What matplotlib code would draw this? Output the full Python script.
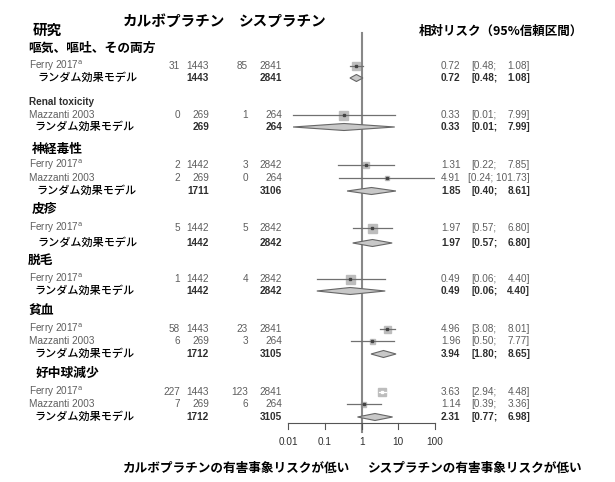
import numpy as np
import matplotlib
matplotlib.use('Agg')
import matplotlib.pyplot as plt
from matplotlib.patches import Polygon, Rectangle

plt.rcParams['font.family'] = ['Liberation Sans', 'Noto Sans CJK JP', 'DejaVu Sans']
JP = ['Noto Sans CJK JP', 'DejaVu Sans']

# subgroup headings
groups = ['嘔気、嘔吐、その両方', 'Renal toxicity', '神経毒性', '皮疹', '脱毛', '貧血', '好中球減少']

# individual studies
study_names = ['Ferry 2017', 'Mazzanti 2003', 'Ferry 2017', 'Mazzanti 2003', 'Ferry 2017',
               'Ferry 2017', 'Ferry 2017', 'Mazzanti 2003', 'Ferry 2017', 'Mazzanti 2003']
carbo_events = [31, 0, 2, 2, 5, 1, 58, 6, 227, 7]
carbo_total = [1443, 269, 1442, 269, 1442, 1442, 1443, 269, 1443, 269]
cis_events = [85, 1, 3, 0, 5, 4, 23, 3, 123, 6]
cis_total = [2841, 264, 2842, 264, 2842, 2842, 2841, 264, 2841, 264]
rr = [0.72, 0.33, 1.31, 4.91, 1.97, 0.49, 4.96, 1.96, 3.63, 1.14]
rr_lo = [0.48, 0.0135, 0.22, 0.24, 0.57, 0.06, 3.08, 0.50, 2.94, 0.39]
rr_hi = [1.08, 7.99, 7.85, 101.73, 6.80, 4.40, 8.01, 7.77, 4.48, 3.36]
study_weight = [8, 9, 6, 4, 9, 9, 7, 5, 8, 5]

# random effects model per subgroup
pool_carbo_total = [1443, 269, 1711, 1442, 1442, 1712, 1712]
pool_cis_total = [2841, 264, 3106, 2842, 2842, 3105, 3105]
pool_rr = [0.72, 0.33, 1.85, 1.97, 0.49, 3.94, 2.31]
pool_lo = [0.48, 0.0135, 0.40, 0.57, 0.06, 1.80, 0.77]
pool_hi = [1.08, 7.99, 8.61, 6.80, 4.40, 8.65, 6.98]

ticks = [0.01, 0.1, 1, 10, 100]
tick_labels = ['0.01', '0.1', '1', '10', '100']

# layout (pixel rows)
head_y = [48, 102, 149, 209, 260, 310, 373]
head_x = [28, 29, 32, 32, 28, 28, 36]
study_y = [66, 115, 165, 178, 228, 279, 329, 341, 392, 404]
pool_y = [78, 127, 191, 243, 291, 354, 417]
pool_x = [37, 34, 36, 37, 34, 34, 34]
AX_Y = 423
X0, X1 = 288.3, 435

W, H = 615, 482
fig = plt.figure(figsize=(W / 100, H / 100), dpi=100)

# text layer in pixel coords
tx = fig.add_axes([0, 0, 1, 1])
tx.set_xlim(0, W); tx.set_ylim(H, 0); tx.axis('off')

# forest layer: log scale
fx = fig.add_axes([X0 / W, 0, (X1 - X0) / W, 1])
fx.set_xscale('log'); fx.set_xlim(0.01, 100); fx.set_ylim(H, 0); fx.axis('off')
fx.patch.set_alpha(0)

GRAY = '#5e5e5e'
DARK = '#2e2e2e'
FS = 7.2

# headers
tx.text(33, 30, '研究', family=JP, fontsize=10.5, weight='bold', va='center')
tx.text(123, 21, 'カルボプラチン', family=JP, fontsize=10.5, weight='bold', va='center')
tx.text(239, 21, 'シスプラチン', family=JP, fontsize=10.5, weight='bold', va='center')
tx.text(419, 31, '相対リスク（95%信頼区間）', family=JP, fontsize=9, weight='bold', va='center')

for g, name in enumerate(groups):
    if name == 'Renal toxicity':
        tx.text(head_x[g], head_y[g], name, fontsize=FS, weight='bold', color=DARK, va='center')
    else:
        tx.text(head_x[g], head_y[g], name, family=JP, fontsize=9.2, weight='bold', va='center')

for i, name in enumerate(study_names):
    y = study_y[i]
    label = name + (r'$^{\mathrm{a}}$' if name.startswith('Ferry') else '')
    tx.text(29, y, label, fontsize=FS, color=GRAY, va='center')
    tx.text(180, y, str(carbo_events[i]), fontsize=FS, color=GRAY, va='center', ha='right')
    tx.text(209, y, str(carbo_total[i]), fontsize=FS, color=GRAY, va='center', ha='right')
    tx.text(248, y, str(cis_events[i]), fontsize=FS, color=GRAY, va='center', ha='right')
    tx.text(282, y, str(cis_total[i]), fontsize=FS, color=GRAY, va='center', ha='right')
    tx.text(441, y, f'{rr[i]:.2f}', fontsize=FS, color=GRAY, va='center')
    if rr_hi[i] >= 100:
        tx.text(530, y, f'[{rr_lo[i]:.2f}; {rr_hi[i]:.2f}]', fontsize=FS, color=GRAY, va='center', ha='right')
    else:
        tx.text(471, y, f'[{rr_lo[i]:.2f};', fontsize=FS, color=GRAY, va='center')
        tx.text(530, y, f'{rr_hi[i]:.2f}]', fontsize=FS, color=GRAY, va='center', ha='right')

    # CI line + weighted square
    lo, hi = max(rr_lo[i], 0.01), min(rr_hi[i], 100)
    s = study_weight[i]
    px = X0 + (np.log10(rr[i]) + 2) / 4 * (X1 - X0)
    tx.add_patch(Rectangle((px - s / 2, y - s / 2), s, s, color='#bdbdbd', zorder=1))
    inside = (np.log10(hi) - np.log10(lo)) / 4 * (X1 - X0) < s
    fx.plot([lo, hi], [y, y], color='white' if inside else '#707070', lw=0.9, zorder=3)
    fx.plot([rr[i]], [y], marker='s', ms=1.5, color='white' if inside else '#444444', zorder=4)

for g in range(len(groups)):
    y = pool_y[g]
    tx.text(pool_x[g], y, 'ランダム効果モデル', family=JP, fontsize=8, weight='medium', va='center')
    tx.text(209, y, str(pool_carbo_total[g]), fontsize=FS, weight='bold', color=DARK, va='center', ha='right')
    tx.text(282, y, str(pool_cis_total[g]), fontsize=FS, weight='bold', color=DARK, va='center', ha='right')
    tx.text(441, y, f'{pool_rr[g]:.2f}', fontsize=FS, weight='bold', color=DARK, va='center')
    tx.text(471, y, f'[{pool_lo[g]:.2f};', fontsize=FS, weight='bold', color=DARK, va='center')
    tx.text(530, y, f'{pool_hi[g]:.2f}]', fontsize=FS, weight='bold', color=DARK, va='center', ha='right')
    lo, hi = max(pool_lo[g], 0.01), min(pool_hi[g], 100)
    d = Polygon([(lo, y), (pool_rr[g], y - 3.5), (hi, y), (pool_rr[g], y + 3.5)],
                closed=True, facecolor='#c8c8c8', edgecolor='#666666', lw=0.8, zorder=5)
    fx.add_patch(d)

# reference line at 1
fx.plot([1, 1], [33, 432], color='#888888', lw=1.5, zorder=1)

# x axis
fx.plot([0.01, 100], [AX_Y, AX_Y], color='#555555', lw=0.8, clip_on=False)
for t, lab in zip(ticks, tick_labels):
    fx.plot([t, t], [AX_Y, AX_Y + 5.5], color='#555555', lw=0.8, clip_on=False)
    fx.text(t, 442, lab, fontsize=FS, color=DARK, ha='center', va='center')

tx.text(123, 468, 'カルボプラチンの有害事象リスクが低い', family=JP, fontsize=9.1, weight='bold', va='center')
tx.text(368, 468, 'シスプラチンの有害事象リスクが低い', family=JP, fontsize=9.1, weight='bold', va='center')

fig.savefig('out.png', dpi=100)
